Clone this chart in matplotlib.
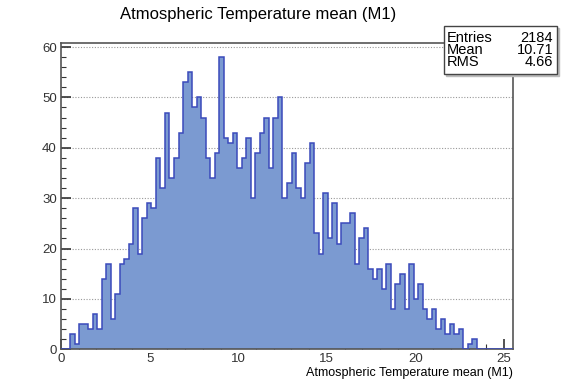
import matplotlib.pyplot as plt
import numpy as np

plt.rcParams['font.family'] = ['Liberation Sans', 'DejaVu Sans']

# histogram contents (100 bins from 0 to 25.5)
counts = [
    0, 0, 3, 1, 5, 5, 4, 7, 4, 14,
    17, 6, 11, 17, 18, 21, 28, 19, 26, 29,
    28, 38, 32, 47, 34, 38, 43, 53, 55, 48,
    50, 46, 38, 34, 39, 58, 42, 41, 43, 36,
    38, 42, 30, 39, 43, 46, 36, 46, 50, 30,
    33, 39, 32, 30, 37, 41, 23, 19, 31, 22,
    29, 21, 25, 25, 27, 17, 22, 24, 16, 14,
    16, 12, 17, 8, 13, 15, 8, 17, 10, 13,
    8, 6, 8, 4, 6, 3, 5, 3, 4, 0,
    1, 2, 0, 0, 0, 0, 0, 0, 0, 0,
]
x_lo, x_hi = 0.0, 25.5
title = "Atmospheric Temperature mean (M1)"
stat_names = ["Entries", "Mean", "RMS"]
stat_values = ["2184", "10.71", "4.66"]

edges = np.linspace(x_lo, x_hi, len(counts) + 1)

fig = plt.figure(figsize=(5.61, 3.80), dpi=100)
ax = fig.add_axes([61 / 561, 1 - 349.3 / 380, (513 - 61) / 561, (349.3 - 42.5) / 380])

fill_col = '#7b9ad1'
line_col = '#3a4abb'
ax.stairs(counts, edges, fill=True, color=fill_col, zorder=2)
ax.stairs(counts, edges, color=line_col, lw=1.1, zorder=3)

ax.set_xlim(x_lo, x_hi)
ax.set_ylim(0, max(counts) * 1.05)
ax.set_xticks(np.arange(0, 26, 5))
ax.set_xticks(np.arange(0, 26, 1), minor=True)
ax.set_yticks(np.arange(0, 61, 10))
ax.set_yticks(np.arange(0, 61, 2), minor=True)
ax.tick_params(which='both', direction='in', top=False, right=False,
               labelsize=9.5, colors='#333333', pad=3)
ax.tick_params(which='major', length=7, width=1.2)
ax.tick_params(which='minor', length=3.5, width=0.8)
ax.set_axisbelow(True)
ax.yaxis.grid(True, linestyle=(0, (1, 1.5)), color='#999999', lw=0.8)
for sp in ax.spines.values():
    sp.set_color('#555555')
    sp.set_linewidth(1.2)

ax.set_xlabel(title, fontsize=9, loc='right', labelpad=1)

fig.text(258 / 561, 1 - 15 / 380, title, fontsize=12, ha='center', va='center')

# stats box
bx0, by0, bx1, by1 = 444 / 561, 1 - 74 / 380, 557 / 561, 1 - 26 / 380
shadow = plt.Rectangle((bx0 + 0.004, by0 - 0.006), bx1 - bx0, by1 - by0,
                       transform=fig.transFigure, color='#bbbbbb', zorder=5)
box = plt.Rectangle((bx0, by0), bx1 - bx0, by1 - by0, transform=fig.transFigure,
                    facecolor='white', edgecolor='#444444', lw=1, zorder=6)
fig.patches.extend([shadow, box])
for i, (nm, val) in enumerate(zip(stat_names, stat_values)):
    yy = 1 - (37.5 + i * 12.5) / 380
    fig.text(447 / 561, yy, nm, fontsize=10.5, ha='left', va='center', zorder=7)
    fig.text(553 / 561, yy, val, fontsize=10.5, ha='right', va='center', zorder=7)

fig.savefig('out.png', dpi=100)
